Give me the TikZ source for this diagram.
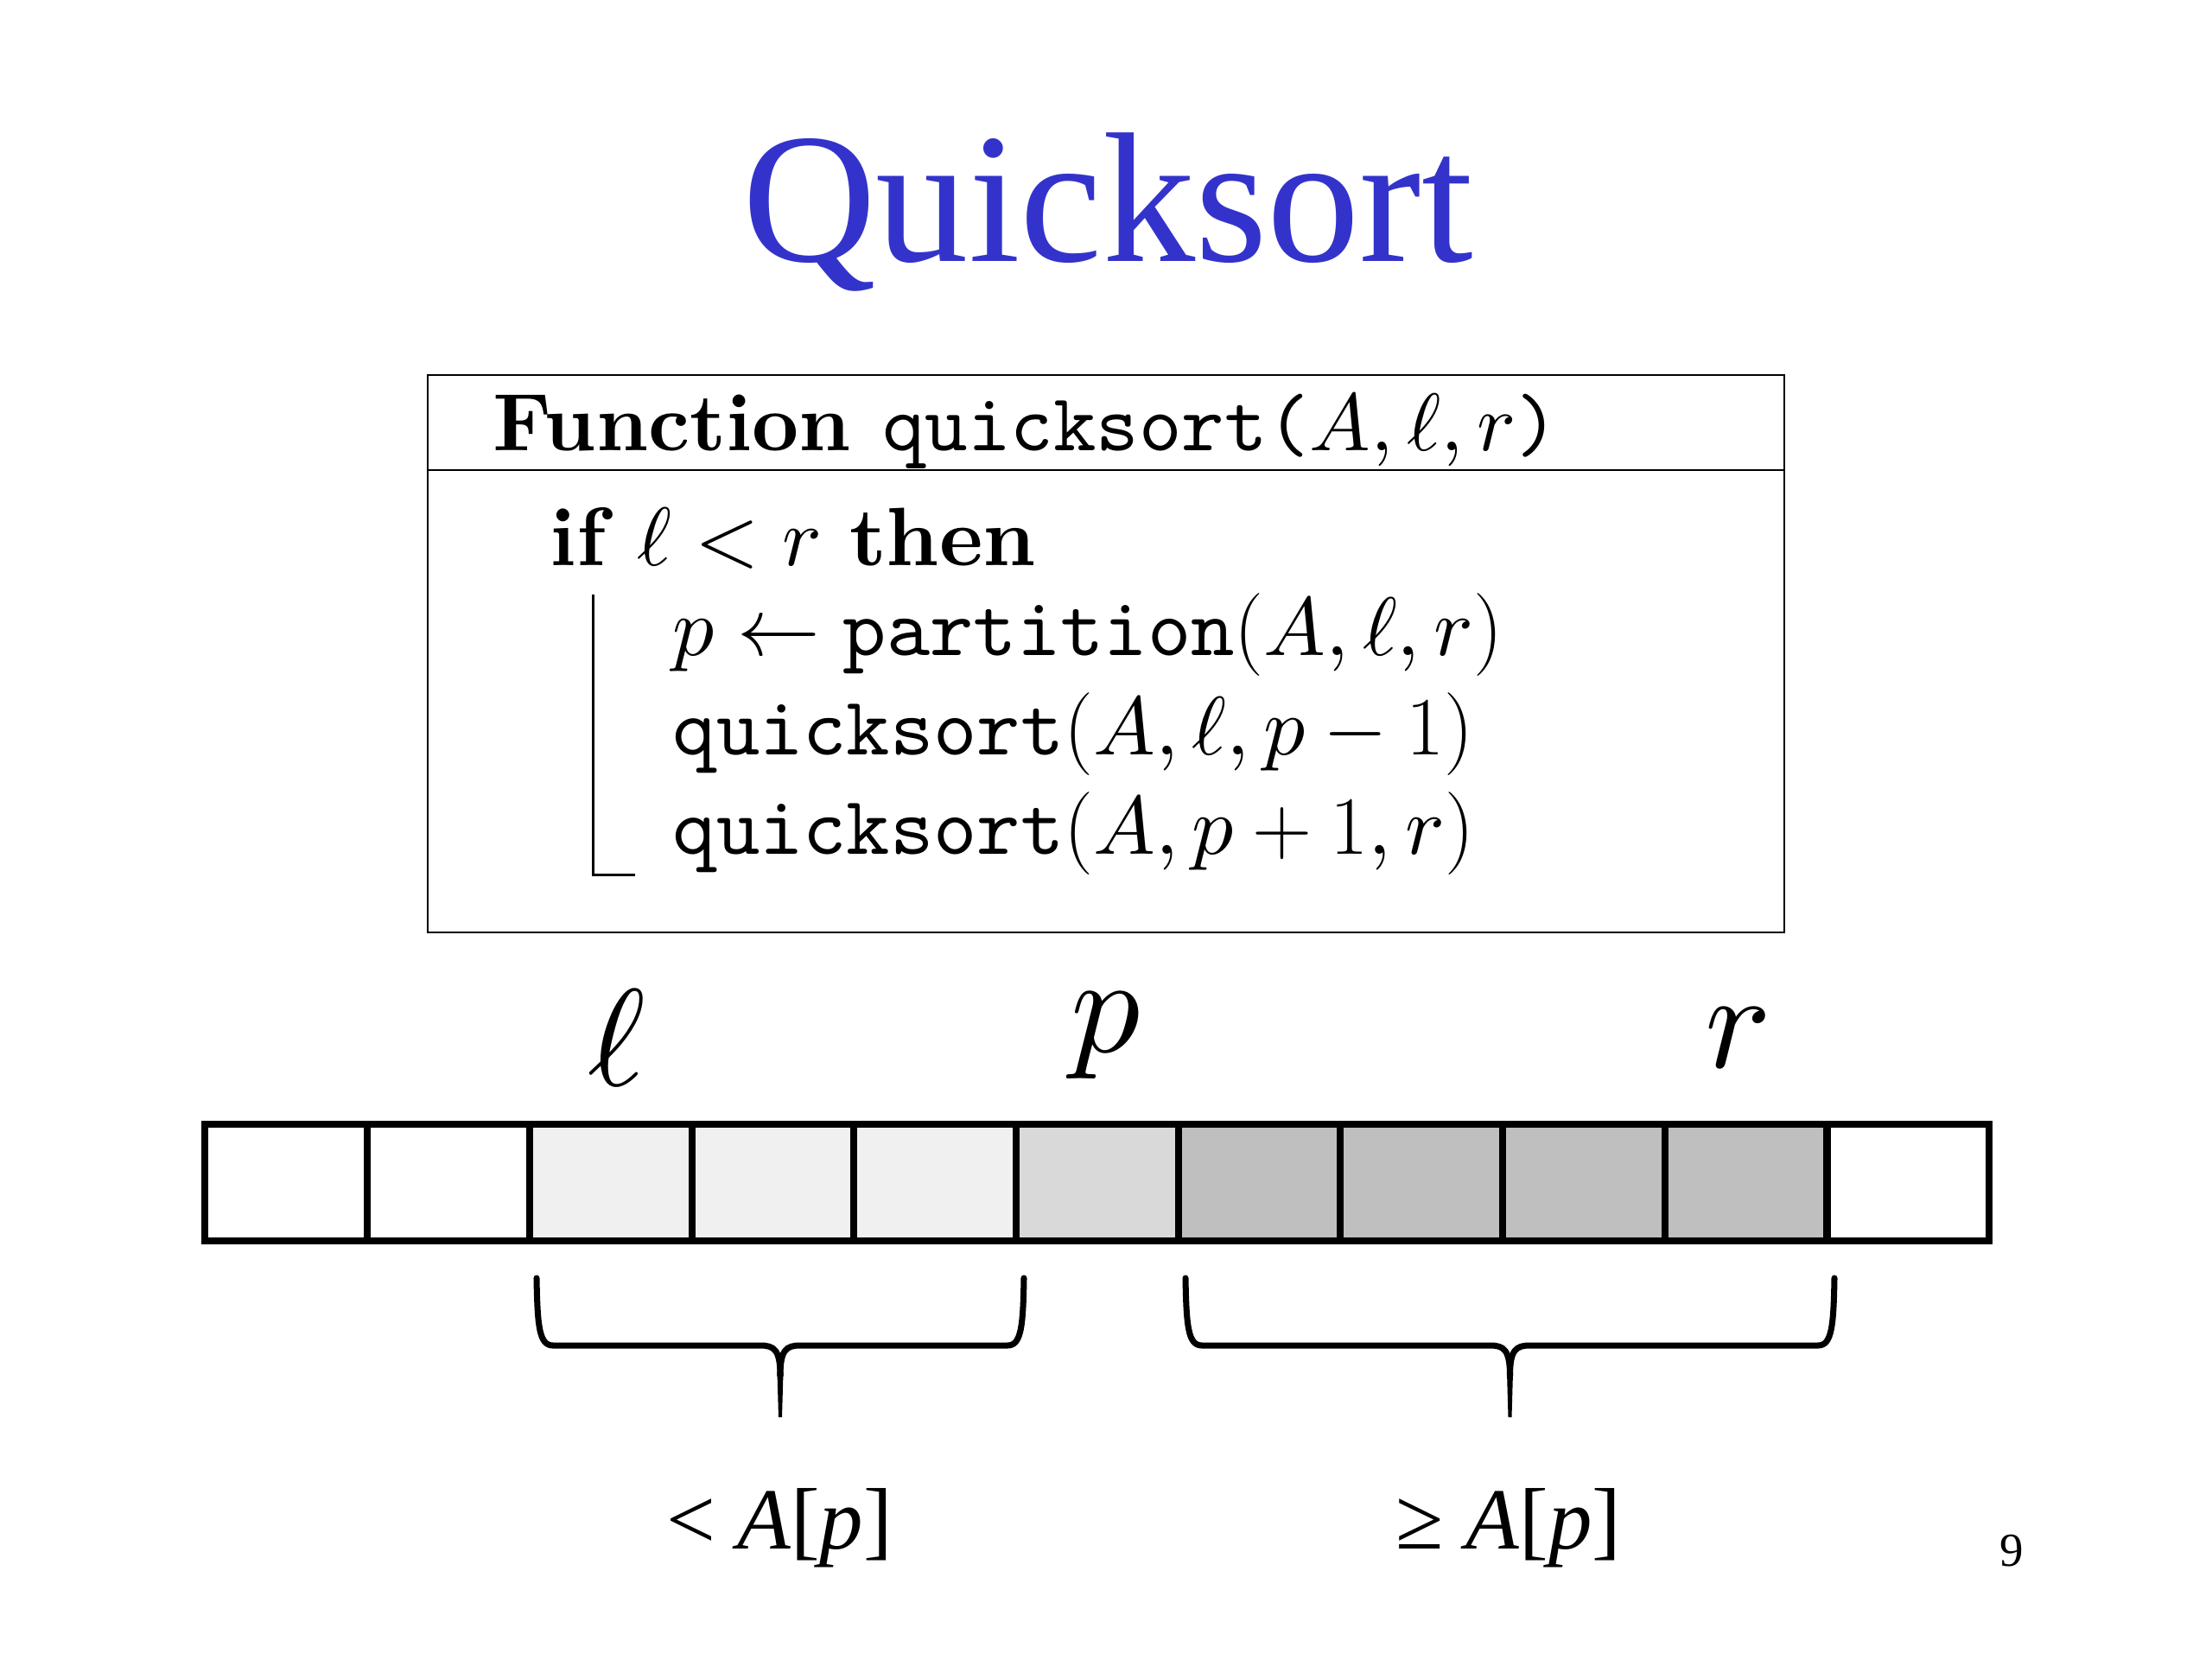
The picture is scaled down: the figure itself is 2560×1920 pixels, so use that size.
\RequirePackage{fix-cm}
\documentclass[tikz,border=0pt]{standalone}
\usepackage{fontspec}
\setmainfont{lmroman10}[Extension=.otf, UprightFont=*-regular, BoldFont=*-bold, ItalicFont=*-italic, BoldItalicFont=*-bolditalic]
\setmonofont{lmmono10}[Extension=.otf, UprightFont=*-regular]
\DeclareFontShape{OML}{cmm}{m}{it}{<->cmmi10}{}
\DeclareFontShape{OMS}{cmsy}{m}{n}{<->cmsy10}{}
\DeclareFontShape{OMX}{cmex}{m}{n}{<->cmex10}{}
\newfontfamily\timesf{Liberation Serif}
\definecolor{titleblue}{RGB}{51,51,204}
\definecolor{lightcell}{RGB}{240,240,240}
\definecolor{pivotcell}{RGB}{217,217,217}
\definecolor{darkcell}{RGB}{191,191,191}
\tikzset{
  cell/.style={draw=black, line width=2.3pt, minimum width=1.877cm, minimum height=1.35cm, inner sep=0pt, outer sep=0pt},
  codeline/.style={anchor=base west, inner sep=0pt, font=\fontsize{27.25}{32}\selectfont},
  headline/.style={anchor=base west, inner sep=0pt, font=\fontsize{26.8}{32}\selectfont},
  idx/.style={inner sep=0pt, font=\fontsize{45.5}{54}\selectfont},
  bracepath/.style={line width=2pt, line cap=round, line join=round},
  cmp/.style={anchor=base, inner sep=0pt, font=\timesf\fontsize{28.7}{34}\selectfont},
  framebox/.style={line width=0.75pt},
}
\begin{document}
\begin{tikzpicture}[x=0.01cm,y=-0.01cm]
\useasboundingbox (0,0) rectangle (2560,1920);
\fill[white] (0,0) rectangle (2560,1920);
% title
\node[anchor=base, inner sep=0pt, text=titleblue, font=\timesf\fontsize{61}{70}\selectfont] (title) at (1282,302) {Quicksort};
% algorithm box
\draw[framebox] (495,434) rectangle (2065,1079);
\draw[framebox] (495,544) -- (2065,544);
\node[headline] (hdr) at (570,521) {\bfseries Function \mdseries\texttt{quicksort(}$A,\ell,r$\texttt{)}};
\node[codeline] (ifl) at (636,654) {\bfseries if \mdseries$\ell<r$ \bfseries then};
\node[codeline] (l1) at (778,758) {$p\leftarrow{}$\texttt{partition}$(A,\ell,r)$};
\node[codeline] (l2) at (778,873) {\texttt{quicksort}$(A,\ell,p-1)$};
\node[codeline] (l3) at (778,988) {\texttt{quicksort}$(A,p+1,r)$};
\draw[line width=0.85pt] (686,688) -- (686,1012) -- (735,1012);
% index labels
\node[idx] (lbl) at (714,1201) {$\ell$};
\node[idx] (plbl) at (1280,1199) {$p$};
\node[idx] (rlbl) at (2012,1201) {$r$};
% array
\foreach \i/\col in {0/white,1/white,2/lightcell,3/lightcell,4/lightcell,5/pivotcell,6/darkcell,7/darkcell,8/darkcell,9/darkcell,10/white}
  \node[cell, fill=\col] (c\i) at ({237.5+(\i+0.5)*187.7},1368.5) {};
% braces
\draw[bracepath] (621,1479) .. controls (622,1535) and (624,1557) .. (640,1557) -- (880,1557) .. controls (896,1557) and (903,1562) .. (903,1592);
\draw[bracepath] (1185,1479) .. controls (1184,1535) and (1182,1557) .. (1166,1557) -- (926,1557) .. controls (910,1557) and (903,1562) .. (903,1592);
\fill (899.5,1588) -- (906.5,1588) -- (905,1640) -- (901,1640) -- cycle;
\draw[bracepath] (1372,1479) .. controls (1373,1535) and (1375,1557) .. (1391,1557) -- (1724.5,1557) .. controls (1740.5,1557) and (1747.5,1562) .. (1747.5,1592);
\draw[bracepath] (2123,1479) .. controls (2122,1535) and (2120,1557) .. (2104,1557) -- (1770.5,1557) .. controls (1754.5,1557) and (1747.5,1562) .. (1747.5,1592);
\fill (1744,1588) -- (1751,1588) -- (1749.5,1640) -- (1745.5,1640) -- cycle;
% comparison labels
\node[cmp] (lt) at (902,1792) {< \textit{A}[\textit{p}]};
\node[cmp] (ge) at (1746,1792) {≥ \textit{A}[\textit{p}]};
% page number
\node[anchor=base, inner sep=0pt, font=\timesf\fontsize{15.6}{18}\selectfont] (pg) at (2328,1812) {9};
\end{tikzpicture}
\end{document}
